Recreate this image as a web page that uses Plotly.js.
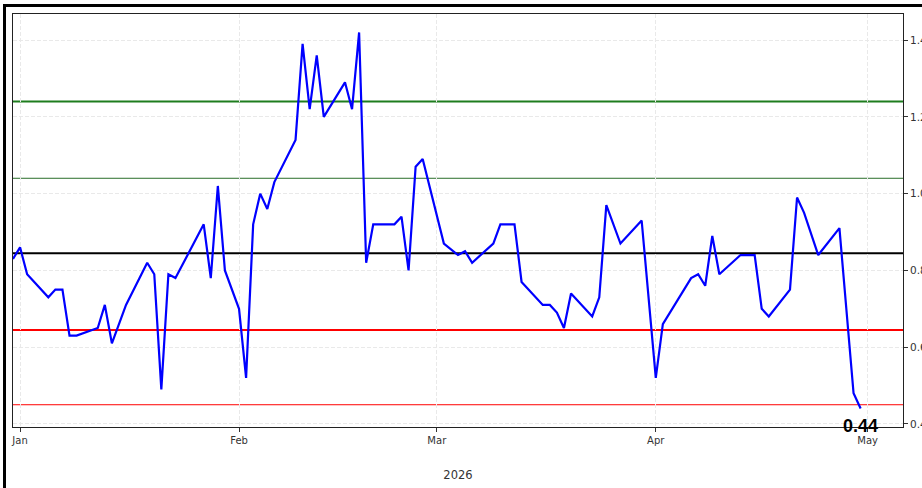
<!DOCTYPE html>
<html>
<head>
<meta charset="utf-8">
<script src="https://cdn.plot.ly/plotly-3.0.1.min.js"></script>
<style>
  html, body { margin: 0; padding: 0; overflow: hidden; background: #fff; }
  #chart { width: 922px; height: 488px; }
  #frame { position: fixed; left: 3px; top: 4px; width: 1100px; height: 700px;
           border: 3px solid #000; pointer-events: none; box-sizing: border-box; }
</style>
</head>
<body>
<div id="chart"></div>
<div id="frame"></div>
<script>
// ---- data ----
const dates = [
  '2025-12-31','2026-01-01','2026-01-02','2026-01-05','2026-01-06','2026-01-07','2026-01-08','2026-01-09',
  '2026-01-12','2026-01-13','2026-01-14','2026-01-16','2026-01-19','2026-01-20','2026-01-21','2026-01-22',
  '2026-01-23','2026-01-27','2026-01-28','2026-01-29','2026-01-30','2026-02-01','2026-02-02','2026-02-03',
  '2026-02-04','2026-02-05','2026-02-06','2026-02-09','2026-02-10','2026-02-11','2026-02-12','2026-02-13',
  '2026-02-16','2026-02-17','2026-02-18','2026-02-19','2026-02-20','2026-02-23','2026-02-24','2026-02-25',
  '2026-02-26','2026-02-27','2026-03-02','2026-03-04','2026-03-05','2026-03-06','2026-03-09','2026-03-10',
  '2026-03-12','2026-03-13','2026-03-16','2026-03-17','2026-03-18','2026-03-19','2026-03-20','2026-03-23',
  '2026-03-24','2026-03-25','2026-03-27','2026-03-30','2026-04-01','2026-04-02','2026-04-06','2026-04-07',
  '2026-04-08','2026-04-09','2026-04-10','2026-04-13','2026-04-15','2026-04-16','2026-04-17','2026-04-20',
  '2026-04-21','2026-04-22','2026-04-24','2026-04-27','2026-04-29','2026-04-30'
];
const values = [
  0.83, 0.86, 0.79, 0.73, 0.75, 0.75, 0.63, 0.63,
  0.65, 0.71, 0.61, 0.71, 0.82, 0.79, 0.49, 0.79,
  0.78, 0.92, 0.78, 1.02, 0.80, 0.70, 0.52, 0.92,
  1.00, 0.96, 1.03, 1.14, 1.39, 1.22, 1.36, 1.20,
  1.29, 1.22, 1.42, 0.82, 0.92, 0.92, 0.94, 0.80,
  1.07, 1.09, 0.87, 0.84, 0.85, 0.82, 0.87, 0.92,
  0.92, 0.77, 0.71, 0.71, 0.69, 0.65, 0.74, 0.68,
  0.73, 0.97, 0.87, 0.93, 0.52, 0.66, 0.78, 0.79,
  0.76, 0.89, 0.79, 0.84, 0.84, 0.70, 0.68, 0.75,
  0.99, 0.95, 0.84, 0.91, 0.48, 0.44
];
// reference levels (upper 2σ, upper 1σ, mean, lower 1σ, lower 2σ)
const levels = [1.24, 1.04, 0.845, 0.645, 0.45];
const monthTicks = ['2026-01-01','2026-02-01','2026-03-01','2026-04-01','2026-05-01'];
const monthLabels = ['Jan','Feb','Mar','Apr','May'];
const yTicks = [0.4, 0.6, 0.8, 1.0, 1.2, 1.4];
const yearLabel = '2026';

// ---- styles ----
const levelStyles = [
  {color: '#1e7d1e', width: 2},
  {color: '#2a6e2a', width: 1},
  {color: '#000000', width: 2},
  {color: '#ff0000', width: 2},
  {color: '#ff0000', width: 1}
];

const shapes = levels.map((lv, i) => ({
  type: 'line', xref: 'paper', yref: 'y', x0: 0, x1: 1, y0: lv, y1: lv,
  line: {color: levelStyles[i].color, width: levelStyles[i].width}, layer: 'below'
}));

const lastIdx = values.length - 1;

const trace = {
  x: dates, y: values, type: 'scatter', mode: 'lines',
  line: {color: '#0000ff', width: 2.2}, hoverinfo: 'x+y'
};

const gridStyle = {showgrid: true, gridcolor: '#e9e9e9', griddash: '4px,2px', gridwidth: 1};

const layout = {
  width: 922, height: 488,
  margin: {l: 13, r: 19, t: 14, b: 61, pad: 0},
  paper_bgcolor: '#ffffff', plot_bgcolor: '#ffffff',
  showlegend: false,
  font: {family: 'DejaVu Sans', size: 10, color: '#333'},
  xaxis: Object.assign({
    type: 'date', range: ['2025-12-31', '2026-05-06'],
    tickmode: 'array', tickvals: monthTicks, ticktext: monthLabels,
    ticks: 'outside', ticklen: 4, tickcolor: '#333',
    showline: true, mirror: true, linecolor: '#222', linewidth: 1,
    zeroline: false,
    tickfont: {size: 10, color: '#333'},
    title: {text: yearLabel, font: {size: 11.5, color: '#333'}, standoff: 25}
  }, gridStyle),
  yaxis: Object.assign({
    side: 'right', range: [0.392, 1.468],
    tickmode: 'array', tickvals: yTicks, ticktext: yTicks.map(v => v.toFixed(1)),
    ticks: 'outside', ticklen: 4, tickcolor: '#333',
    showline: true, mirror: true, linecolor: '#222', linewidth: 1,
    zeroline: false,
    tickfont: {size: 10.5, color: '#333'}
  }, gridStyle),
  shapes: shapes,
  annotations: [{
    x: dates[lastIdx], y: values[lastIdx], xref: 'x', yref: 'y',
    text: values[lastIdx].toFixed(2), showarrow: false,
    xanchor: 'center', yanchor: 'middle', yshift: -17,
    font: {family: 'Liberation Sans', size: 18, color: '#000', weight: 'bold'}
  }]
};

Plotly.newPlot('chart', [trace], layout, {displayModeBar: false, staticPlot: true});
</script>
</body>
</html>
